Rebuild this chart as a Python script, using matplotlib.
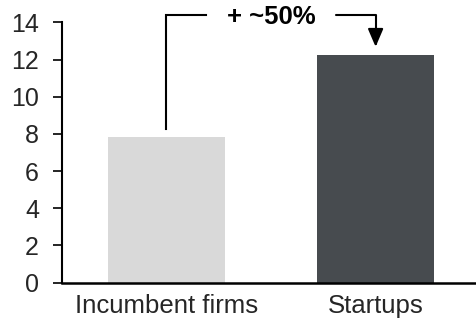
import matplotlib
matplotlib.use("Agg")
import matplotlib.pyplot as plt

plt.rcParams['font.family'] = ['Liberation Sans', 'DejaVu Sans']

categories = ["Incumbent firms", "Startups"]
values = [7.85, 12.25]
bar_colors = ["#d9d9d9", "#474b4f"]
yticks = [0, 2, 4, 6, 8, 10, 12, 14]
growth_label = "+ ~50%"

fig = plt.figure(figsize=(4.76, 3.2), dpi=100)
ax = fig.add_axes([0.130, 0.1166, 0.870, 0.8137])

x = list(range(len(categories)))
ax.bar(x, values, width=0.56, color=bar_colors, zorder=2)

ax.set_xlim(-0.5, 1.48)
ax.set_ylim(0, 14)
ax.set_yticks(yticks)
ax.set_xticks(x)
ax.set_xticklabels(categories, fontsize=18.5, color="#262626")
ax.tick_params(axis="y", labelsize=18, labelcolor="#262626", length=6.5,
               width=1.2, direction="out", pad=10)
ax.tick_params(axis="x", length=0, pad=8)

for side in ("top", "right"):
    ax.spines[side].set_visible(False)
ax.spines["left"].set_linewidth(1.5)
ax.spines["bottom"].set_linewidth(1.8)

# Growth bracket from the incumbent bar to the startup bar
gap = 0.43
bracket_y = 14.4
x0, x1 = x[0], x[1]
text_x = 0.5
half_gap = 0.31
ax.plot([x0, x0, text_x - half_gap], [values[0] + gap, bracket_y, bracket_y],
        color="black", lw=1.5, clip_on=False, solid_joinstyle="miter")
ax.annotate("", xy=(x1, values[1] + gap), xytext=(text_x + half_gap, bracket_y),
            arrowprops=dict(arrowstyle="-|>,head_length=1.1,head_width=0.47",
                            connectionstyle="angle,angleA=0,angleB=90,rad=0",
                            color="black", lw=1.5, shrinkA=0, shrinkB=0),
            annotation_clip=False)
ax.text(text_x, bracket_y - 0.1, growth_label, ha="center", va="center",
        fontsize=18.5, fontweight="bold", color="black")

fig.savefig("out.png", dpi=100)
